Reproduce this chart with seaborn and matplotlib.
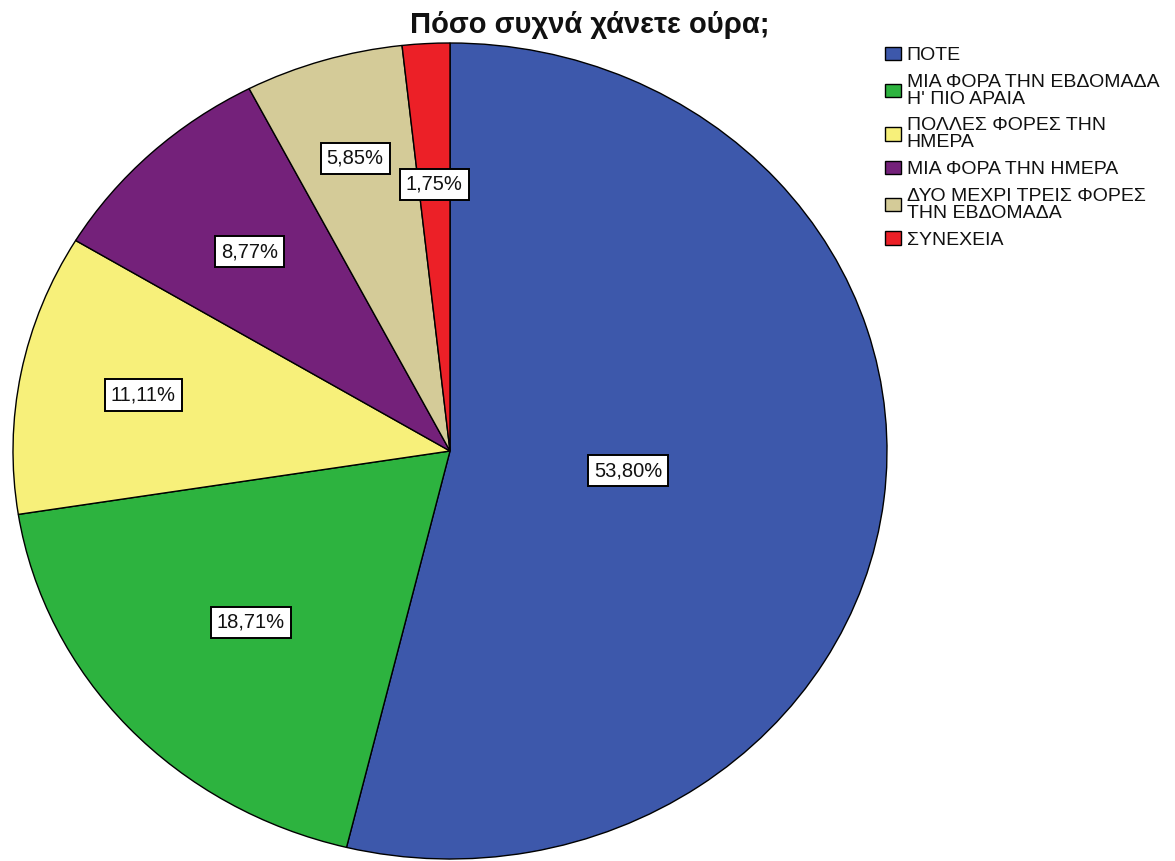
import numpy as np
import matplotlib.pyplot as plt
import seaborn as sns

categories = ['ΠΟΤΕ',
              'ΜΙΑ ΦΟΡΑ ΤΗΝ ΕΒΔΟΜΑΔΑ\nΗ\' ΠΙΟ ΑΡΑΙΑ',
              'ΠΟΛΛΕΣ ΦΟΡΕΣ ΤΗΝ\nΗΜΕΡΑ',
              'ΜΙΑ ΦΟΡΑ ΤΗΝ ΗΜΕΡΑ',
              'ΔΥΟ ΜΕΧΡΙ ΤΡΕΙΣ ΦΟΡΕΣ\nΤΗΝ ΕΒΔΟΜΑΔΑ',
              'ΣΥΝΕΧΕΙΑ']
percent = [53.80, 18.71, 11.11, 8.77, 5.85, 1.75]
colors = ['#3D58AB', '#2DB33F', '#F7F07A', '#74217A', '#D4CB98', '#EC2027']
label_r = [0.41, 0.62, 0.715, 0.67, 0.75, 0.655]  # label distance from centre

sns.set_theme(style='white')
plt.rcParams['font.family'] = ['Liberation Sans', 'DejaVu Sans']

fig = plt.figure(figsize=(11.75, 8.61), dpi=100)
ax = fig.add_axes([13 / 1175, 2 / 861, 874 / 1175, 816 / 861])

wedges, _ = ax.pie(percent, colors=colors, startangle=90, counterclock=False,
                   wedgeprops=dict(edgecolor='black', linewidth=1))
ax.set_aspect('auto')
ax.set_xlim(-1, 1)
ax.set_ylim(-1, 1)

for w, p, r in zip(wedges, percent, label_r):
    th = np.deg2rad((w.theta1 + w.theta2) / 2)
    ax.text(r * np.cos(th), r * np.sin(th), f'{p:.2f}%'.replace('.', ','),
            ha='center', va='center', fontsize=14.5, color='#111111',
            bbox=dict(boxstyle='square,pad=0.3', facecolor='white', edgecolor='black', linewidth=1.4))

fig.text(590 / 1175, 1 - 33 / 861, 'Πόσο συχνά χάνετε ούρα;', ha='center', va='baseline',
         fontsize=21, fontweight='bold', color='#111111')

leg = fig.legend(wedges, categories, loc='upper left', bbox_to_anchor=(885 / 1175, 1 - 47 / 861),
                 frameon=False, handlelength=0.82, handleheight=0.67, handletextpad=0.3,
                 labelspacing=0.5, fontsize=14, borderaxespad=0, borderpad=0)
for t in leg.get_texts():
    t.set_linespacing(0.97)
    t.set_color('#111111')

plt.savefig('out.png', dpi=100, facecolor='white')
